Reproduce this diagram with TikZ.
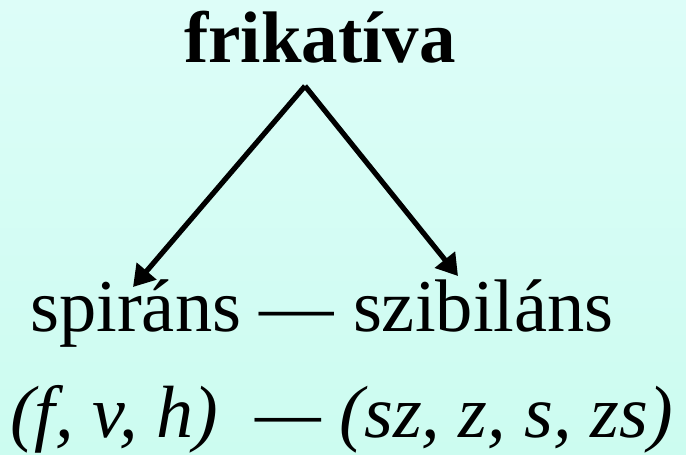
\documentclass[tikz,border=0pt]{standalone}
\usepackage{fontspec}
\setmainfont{Liberation Serif}
\usepackage{tikz}
\usetikzlibrary{arrows.meta}
\definecolor{bgtop}{RGB}{221,253,248}
\definecolor{bgbot}{RGB}{204,252,240}

\begin{document}
\begin{tikzpicture}[x=1pt,y=-1pt,
  word/.style={anchor=base,inner sep=0pt,font=\fontsize{74.5}{74.5}\selectfont},
  arr/.style={line width=5.2pt,-{Triangle[length=21pt,width=25pt]}}]
  \shade[top color=bgtop,bottom color=bgbot] (0,0) rectangle (686,455);
  \node[word,font=\fontsize{73}{73}\selectfont\bfseries] (frik) at (320,62) {frikatíva};
  \node[word,anchor=base west] (pair) at (30,331) {spiráns — szibiláns};
  \node[word,anchor=base west,font=\fontsize{74}{74}\selectfont\itshape] (ex) at (10,437) {(f, v, h)\ \ — (sz, z, s, zs)};
  \coordinate (apex) at (305,86); \coordinate (lt) at (133,287); \coordinate (rt) at (458,276);
  \draw[arr] (apex) -- (lt); \draw[arr] (apex) -- (rt);
\end{tikzpicture}
\end{document}
